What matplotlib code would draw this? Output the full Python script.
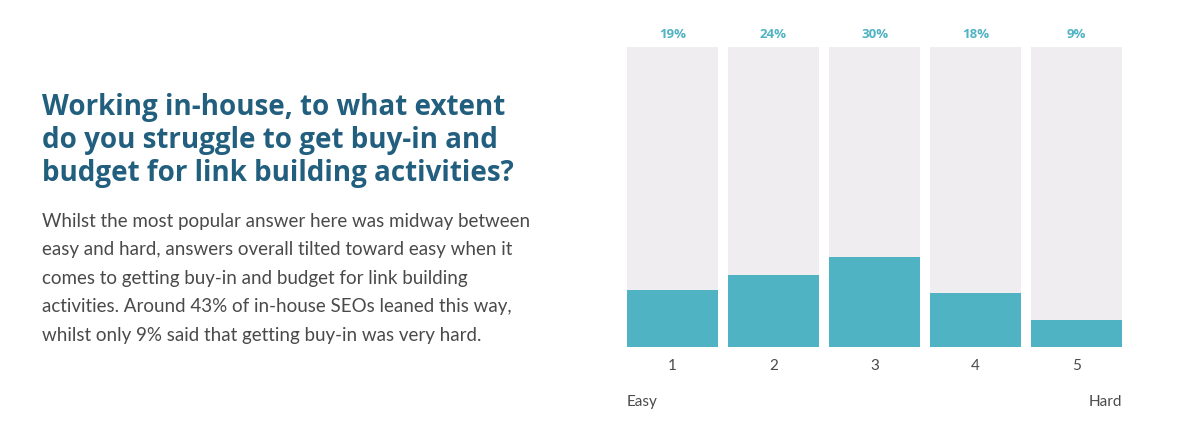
import matplotlib
matplotlib.use('Agg')
import matplotlib.pyplot as plt
import numpy as np

# chart data
categories = ['1', '2', '3', '4', '5']
values = [19, 24, 30, 18, 9]
scale_ends = ['Easy', 'Hard']

title_lines = [
    'Working in-house, to what extent',
    'do you struggle to get buy-in and',
    'budget for link building activities?',
]
body_lines = [
    'Whilst the most popular answer here was midway between',
    'easy and hard, answers overall tilted toward easy when it',
    'comes to getting buy-in and budget for link building',
    'activities. Around 43% of in-house SEOs leaned this way,',
    'whilst only 9% said that getting buy-in was very hard.',
]

TEAL = '#4fb3c3'
BG_BAR = '#efedf0'
TITLE_C = '#225f7f'
TEXT_C = '#4a4a4a'

plt.rcParams['font.family'] = ['Lato', 'DejaVu Sans']

W, H = 1189, 422
fig = plt.figure(figsize=(W / 100, H / 100), dpi=100)

# left text block
for i, line in enumerate(title_lines):
    fig.text(42 / W, 1 - (107 + i * 33.5) / H, line, ha='left', va='center',
             fontsize=20, fontweight='bold', color=TITLE_C,
             family=['Open Sans', 'DejaVu Sans'])
for i, line in enumerate(body_lines):
    fig.text(42 / W, 1 - (221 + i * 28.6) / H, line, ha='left', va='center',
             fontsize=13.5, color=TEXT_C)

# bar chart
ax = fig.add_axes([627 / W, 1 - 347 / H, 495 / W, 300 / H])
x = np.arange(len(categories))
ax.bar(x, [100] * len(x), width=0.9, color=BG_BAR, zorder=1)
ax.bar(x, values, width=0.9, color=TEAL, zorder=2)
ax.set_xlim(-0.45, len(x) - 0.55)
ax.set_ylim(0, 100)
for xi, v in zip(x, values):
    ax.text(xi, 104, f'{v}%', ha='center', va='center', fontsize=9.5,
            fontweight='bold', color=TEAL, family=['Open Sans', 'DejaVu Sans'])
ax.set_xticks(x)
ax.set_xticklabels(categories, fontsize=11, color=TEXT_C)
ax.tick_params(axis='x', length=0, pad=9)
ax.set_yticks([])
for s in ax.spines.values():
    s.set_visible(False)

fig.text(627 / W, 1 - 402 / H, scale_ends[0], ha='left', va='center',
         fontsize=11, color=TEXT_C)
fig.text(1122 / W, 1 - 402 / H, scale_ends[1], ha='right', va='center',
         fontsize=11, color=TEXT_C)

fig.savefig('out.png', dpi=100, facecolor='white')
